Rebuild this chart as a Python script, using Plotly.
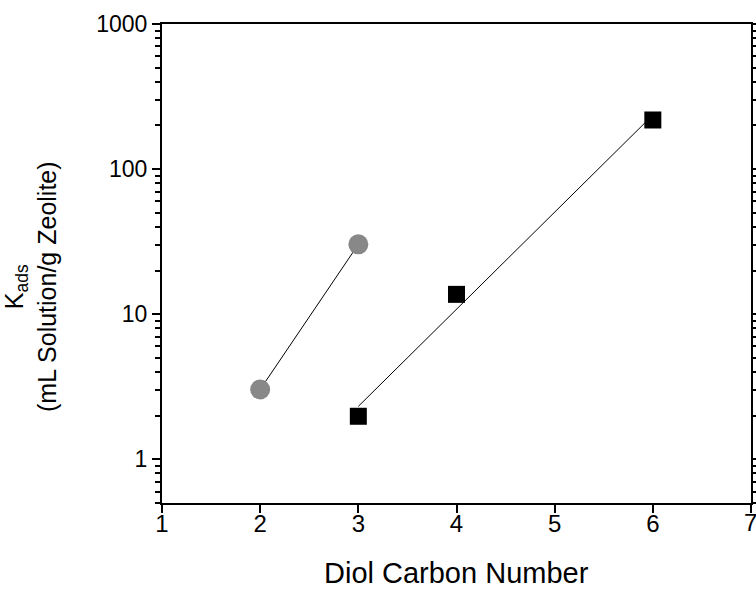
import numpy as np
import plotly.graph_objects as go

# Data
circle_x = [2, 3]
circle_y = [3.03, 30.3]
square_x = [3, 4, 6]
square_y = [1.98, 13.7, 218]

x_ticks = [1, 2, 3, 4, 5, 6, 7]
y_ticks = [1, 10, 100, 1000]
y_minor = [m * d for d in [0.1, 1, 10, 100] for m in range(2, 10) if 0.5 <= m * d <= 1000]

FONT = "Arial, Liberation Sans, sans-serif"

L, R, T, B = 162, 5, 24, 86
W, H = 756, 589
PW, PH = W - L - R, H - T - B


def log_fit(xs, ys):
    k, b = np.polyfit(xs, np.log10(ys), 1)
    xe = np.array([min(xs), max(xs)], dtype=float)
    return xe, 10 ** (k * xe + b)


fig = go.Figure()

cx, cy = log_fit(circle_x, circle_y)
sx, sy = log_fit(square_x, square_y)

fig.add_trace(go.Scatter(x=cx, y=cy, mode="lines",
                         line=dict(color="black", width=1), showlegend=False))
fig.add_trace(go.Scatter(x=sx, y=sy, mode="lines",
                         line=dict(color="black", width=1), showlegend=False))
fig.add_trace(go.Scatter(x=circle_x, y=circle_y, mode="markers",
                         marker=dict(symbol="circle", size=20, color="#888888",
                                     line=dict(width=0)), showlegend=False))
fig.add_trace(go.Scatter(x=square_x, y=square_y, mode="markers",
                         marker=dict(symbol="square", size=17, color="black",
                                     line=dict(width=0)), showlegend=False))

annotations = [
    dict(text="K<sub>ads</sub><br>(mL Solution/g Zeolite)",
         xref="paper", yref="paper",
         x=(30 - L) / PW, y=(H - B - 287) / PH,
         xanchor="center", yanchor="middle", textangle=-90,
         showarrow=False, font=dict(size=25, family=FONT)),
    dict(text="Diol Carbon Number",
         xref="paper", yref="paper",
         x=0.5, y=(H - B - 573) / PH,
         xanchor="center", yanchor="middle",
         showarrow=False, font=dict(size=29, family=FONT)),
    # last x tick label, which plotly hides because it touches the page edge
    dict(text=str(x_ticks[-1]),
         xref="x", yref="paper",
         x=x_ticks[-1], y=(H - B - 522) / PH,
         xanchor="center", yanchor="middle", xshift=-1,
         showarrow=False, font=dict(size=24, family=FONT)),
]

fig.update_layout(
    width=W, height=H,
    margin=dict(l=L, r=R, t=T, b=B),
    paper_bgcolor="white", plot_bgcolor="white",
    font=dict(family=FONT, color="black"),
    xaxis=dict(
        range=[1, 7], tickvals=x_ticks, ticktext=[str(v) for v in x_ticks],
        showgrid=False, zeroline=False, automargin=False,
        showline=True, linecolor="black", linewidth=2, mirror=True,
        ticks="outside", ticklen=8, tickwidth=2, tickcolor="black",
        tickfont=dict(size=24, family=FONT), ticklabelstandoff=-10,
    ),
    yaxis=dict(
        type="log", range=[np.log10(0.5), 3],
        tickvals=y_ticks, ticktext=[str(v) for v in y_ticks],
        showgrid=False, zeroline=False, automargin=False,
        showline=True, linecolor="black", linewidth=2, mirror="ticks",
        ticks="outside", ticklen=8, tickwidth=2, tickcolor="black",
        tickfont=dict(size=23, family=FONT),
        minor=dict(tickvals=y_minor, ticks="outside", ticklen=5, tickwidth=2,
                   tickcolor="black", showgrid=False),
    ),
    annotations=annotations,
)

fig.write_html("out.html")
